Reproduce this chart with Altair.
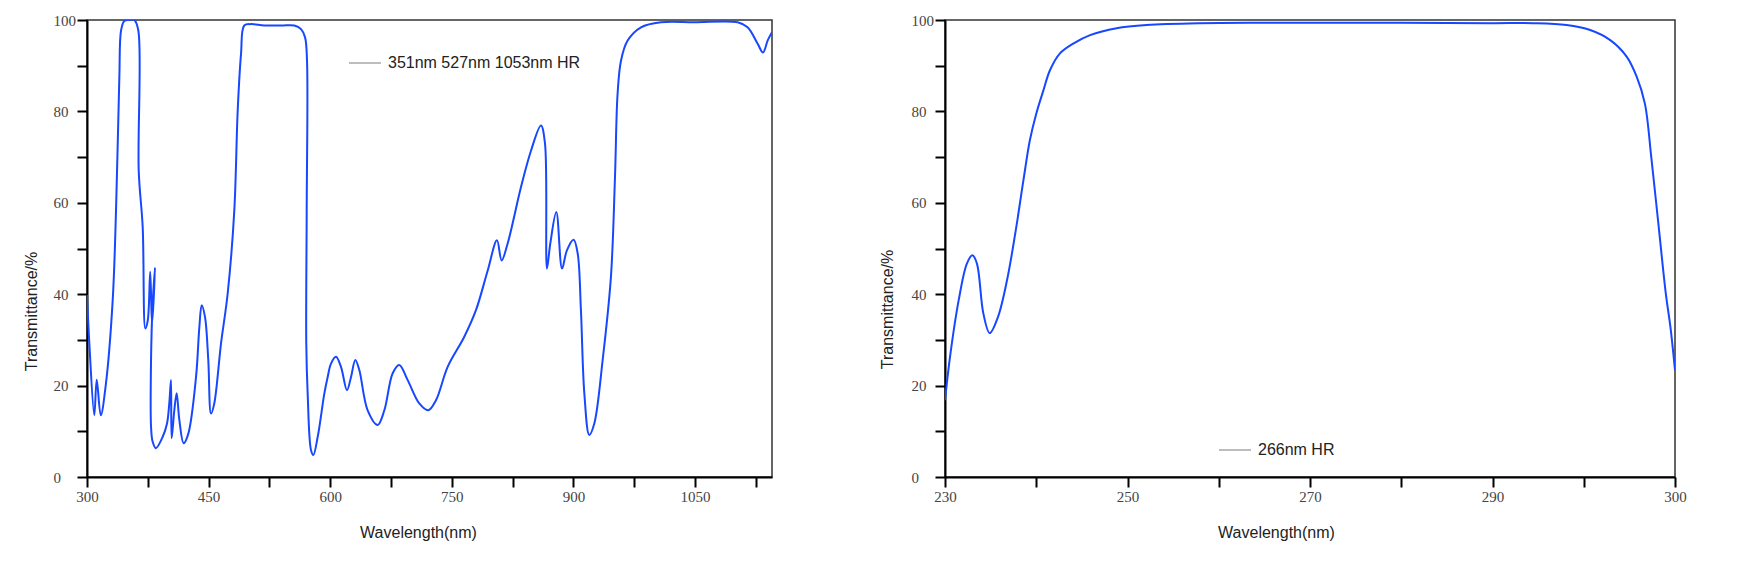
import altair as alt
import pandas as pd

# ---------------- data ----------------
left_name = "351nm 527nm 1053nm HR"
left_nm = [300, 302.9, 309, 312, 317, 323.4, 331.7, 335.8, 339.9, 342, 346, 352, 358.3, 363.3, 363.8,
           368.7, 372, 375, 378, 380.2, 383.9, 381, 379, 379, 381, 385, 393.4, 398.7, 401.5, 403.6,
           404.4, 407.7, 410.6, 413.9, 419.2, 425, 434.5, 438.6, 441.5, 445.6, 449.6, 453, 457, 465.3,
           473.5, 481.7, 485.9, 490, 494, 502.3, 518.7, 540, 555.7, 564, 569, 571.4, 571, 570.5, 572.2,
           576.3, 579.2, 584.6, 592.8, 596.9, 601, 607.1, 613.3, 620.7, 625.7, 631, 635.9, 646.2, 658.6,
           666.8, 677.1, 685.2, 695.6, 709.9, 721, 730.5, 744.9, 765.4, 779.8, 794.3, 805.7, 811.5,
           818.9, 835.3, 847.7, 860, 865, 867.4, 871.5, 878.9, 886, 892, 900.3, 905.3, 909.3, 913.5,
           919.6, 925.8, 936.1, 946.3, 951.3, 954.5, 958.7, 966.9, 983.4, 1008, 1049, 1102.6, 1114.9,
           1127.3, 1133.9, 1139.6, 1145]
left_T = [39.8, 29.2, 13.5, 21.3, 13.5, 20.5, 38.7, 58.3, 87.5, 97.7, 99.8, 100, 100, 97.7, 67,
          54.7, 32.5, 34.3, 44.9, 33.6, 45.8, 38, 25.6, 11, 7.7, 6.3, 8.8, 11.7, 16.1, 21.2,
          8.5, 14.6, 18.3, 12.5, 7.4, 9.5, 21.9, 32.8, 37.6, 35, 25.6, 13.9, 16.1, 29.2,
          40.1, 58.3, 80.2, 92.6, 98.8, 99.1, 98.8, 98.8, 98.8, 98, 96.2, 91.1, 58, 29.2, 18.3,
          5.9, 4.8, 8.8, 18.3, 21.9, 24.8, 26.3, 24.1, 19, 21.9, 25.6, 23.4, 14.6, 11.4,
          14.6, 22.7, 24.5, 21.2, 16.1, 14.6, 16.8, 24.1, 30.7, 36.5, 45.2, 51.8, 47.4,
          51.1, 63.4, 71.4, 76.9, 72.9, 45.6, 51.1, 58, 45.6, 49.6, 51.9, 48.9, 36.5, 18.3,
          9.2, 11.7, 25.6, 43.8, 65.6, 83.8, 91.1, 95.5, 98.4, 99.5, 99.5, 99.5, 98.4,
          94.8, 92.9, 95.5, 97.3]

right_name = "266nm HR"
right_nm = [230, 230.55, 231.5, 232.4, 233, 233.5, 234.2, 234.9, 235.8, 236.8, 237.7, 238.6, 239.3,
            240, 240.8, 241.5, 242.6, 244.1, 245.9, 248.8, 252.1, 257.9, 265, 280, 290, 294.5, 298.1,
            300.7, 302.9, 304.7, 305.8, 306.7, 307.4, 308.2, 309.0, 309.5, 310]
right_T = [16.8, 26.3, 38.7, 46.7, 48.5, 46.7, 35.8, 31.5, 35, 43.1, 53.3, 65, 73.7,
           79.5, 84.7, 89, 92.7, 94.9, 96.7, 98.2, 98.9, 99.3, 99.4, 99.4, 99.3, 99.3, 98.9,
           97.8, 95.6, 92, 87.6, 81.7, 70, 55, 40, 32.8, 23.4]

# axis ticks and labels
left_ticks = [300, 375, 450, 525, 600, 675, 750, 825, 900, 975, 1050, 1125]
left_tick_labels = {300: "300", 450: "450", 600: "600", 750: "750", 900: "900", 1050: "1050"}
right_ticks = [230, 240, 250, 260, 270, 280, 290, 300, 310]
right_tick_labels = {230: "230", 250: "250", 270: "270", 290: "290", 310: "300"}
y_ticks = [0, 10, 20, 30, 40, 50, 60, 70, 80, 90, 100]
y_tick_labels = {0: "0", 20: "20", 40: "40", 60: "60", 80: "80", 100: "100"}

BLUE = "#1747ff"
LEGEND_GRAY = "#bdbdbd"


def label_expr(mapping):
    expr = "''"
    for v, t in mapping.items():
        expr = f"datum.value == {v} ? '{t}' : ({expr})"
    return expr


def panel(nm, T, name, domain, ticks, xlabels, width, height, title_x, legend_x, legend_y,
          ytitle_x, ytitle_y):
    df = pd.DataFrame({"nm": nm, "T": T, "series": name, "i": list(range(len(nm)))})
    x = alt.X("nm:Q", scale=alt.Scale(domain=domain, nice=False, zero=False),
              axis=alt.Axis(values=ticks, labelExpr=label_expr(xlabels), title="Wavelength(nm)",
                            titleX=title_x, titleY=55, titleBaseline="middle", grid=False,
                            labelFlush=False, labelOverlap=False, labelPadding=2))
    y = alt.Y("T:Q", scale=alt.Scale(domain=[0, 100], nice=False),
              axis=alt.Axis(values=y_ticks, labelExpr=label_expr(y_tick_labels),
                            title="Transmittance/%", titleX=ytitle_x, titleY=ytitle_y,
                            titleBaseline="middle", labelAlign="left", labelPadding=24,
                            labelFlush=False, labelOverlap=False, grid=False))
    base = alt.Chart(df).encode(x=x, y=y, order="i:Q")
    legend_layer = base.mark_line(strokeWidth=0).encode(
        color=alt.Color("series:N", scale=alt.Scale(range=[LEGEND_GRAY]),
                        legend=alt.Legend(title=None, orient="none", legendX=legend_x, legendY=legend_y,
                                          symbolType="stroke", symbolSize=1024, symbolStrokeWidth=2,
                                          symbolOpacity=1,
                                          labelFontSize=16, labelFont="Liberation Sans",
                                          labelColor="#222", labelOffset=6, labelLimit=400))
    )
    line_layer = base.mark_line(strokeWidth=2, interpolate="catmull-rom", clip=True, color=BLUE)
    return alt.layer(legend_layer, line_layer).properties(width=width, height=height)


left = panel(left_nm, left_T, left_name, [300, 1145], left_ticks, left_tick_labels,
             685, 457, 331, 261, 26, -56, 291)
right = panel(right_nm, right_T, right_name, [230, 310], right_ticks, right_tick_labels,
              730, 457, 331, 273, 413, -58, 289)

chart = alt.hconcat(left, right, spacing=105).resolve_scale(color="independent").resolve_legend(
    color="independent"
).properties(
    padding={"left": 14, "top": 4, "right": 5, "bottom": 5},
    background="white"
).configure_view(
    stroke="#333", strokeWidth=1.5
).configure_axis(
    domainColor="black", domainWidth=2, tickColor="black", tickWidth=2, tickSize=10,
    labelFont="Liberation Serif", labelFontSize=15, labelColor="#444",
    titleFont="Liberation Sans", titleFontSize=16, titleFontWeight="normal", titleColor="#222"
)

chart.save("out.html", embed_options={"renderer": "svg", "actions": False})
